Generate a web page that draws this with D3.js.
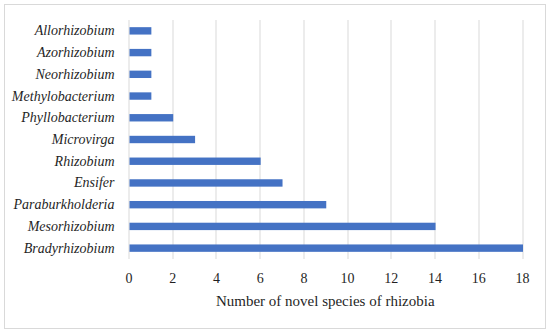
<!DOCTYPE html>
<html>
<head>
<meta charset="utf-8">
<script src="https://cdn.jsdelivr.net/npm/d3@7"></script>
<style>
  body { margin: 0; background: #fff; }
  text { font-family: "Liberation Serif", serif; fill: #1f1f1f; }
</style>
</head>
<body>
<div id="chart"></div>
<script>
// genera, top to bottom
const genera = ['Allorhizobium', 'Azorhizobium', 'Neorhizobium', 'Methylobacterium',
  'Phyllobacterium', 'Microvirga', 'Rhizobium', 'Ensifer', 'Paraburkholderia',
  'Mesorhizobium', 'Bradyrhizobium'];
const speciesCount = [1, 1, 1, 1, 2, 3, 6, 7, 9, 14, 18];
const xTicks = [0, 2, 4, 6, 8, 10, 12, 14, 16, 18];
const xTitle = 'Number of novel species of rhizobia';

const W = 550, H = 333;
const margin = { top: 20, right: 28, bottom: 74, left: 128.5 };
const width = W - margin.left - margin.right,
  height = H - margin.top - margin.bottom;

const svg = d3.select('#chart').append('svg').attr('width', W).attr('height', H);

svg.append('rect')
  .attr('x', 4.5).attr('y', 4.5).attr('width', 541).attr('height', 324)
  .attr('fill', '#fff').attr('stroke', '#d9d9d9');

const g = svg.append('g')
  .attr('transform', 'translate(' + margin.left + ',' + margin.top + ')');

const x = d3.scaleLinear().domain([0, 18]).range([0, width]);
const y = d3.scaleBand().domain(genera).range([0, height]).paddingInner(0.66).paddingOuter(0.33);

// gridlines
g.selectAll('.grid')
  .data(xTicks)
  .enter().append('line')
  .attr('class', 'grid')
  .attr('x1', d => Math.round(x(d)) + 0.5).attr('x2', d => Math.round(x(d)) + 0.5)
  .attr('y1', 0).attr('y2', height)
  .attr('stroke', '#d9d9d9').attr('stroke-width', 1);

g.selectAll('.bar')
  .data(genera)
  .enter().append('rect')
  .attr('class', 'bar')
  .attr('x', x(0) + 1)
  .attr('y', d => y(d))
  .attr('width', (d, i) => x(speciesCount[i]) - x(0))
  .attr('height', y.bandwidth())
  .attr('fill', '#4472c4');

// x axis labels
const xAxis = g.append('g')
  .attr('transform', 'translate(0,' + height + ')')
  .call(d3.axisBottom(x).tickValues(xTicks).tickSize(0).tickPadding(14));
xAxis.select('.domain').remove();
xAxis.selectAll('text').style('font-size', '14px').style('font-family', '"Liberation Serif", serif').attr('fill', '#1f1f1f');

// y axis labels
const yAxis = g.append('g')
  .call(d3.axisLeft(y).tickSize(0).tickPadding(14));
yAxis.select('.domain').remove();
yAxis.selectAll('text').style('font-size', '14px').style('font-style', 'italic')
  .style('font-family', '"Liberation Serif", serif').attr('fill', '#1f1f1f');

g.append('text')
  .attr('x', width / 2).attr('y', height + 47)
  .attr('text-anchor', 'middle')
  .style('font-size', '15px')
  .text(xTitle);
</script>
</body>
</html>
